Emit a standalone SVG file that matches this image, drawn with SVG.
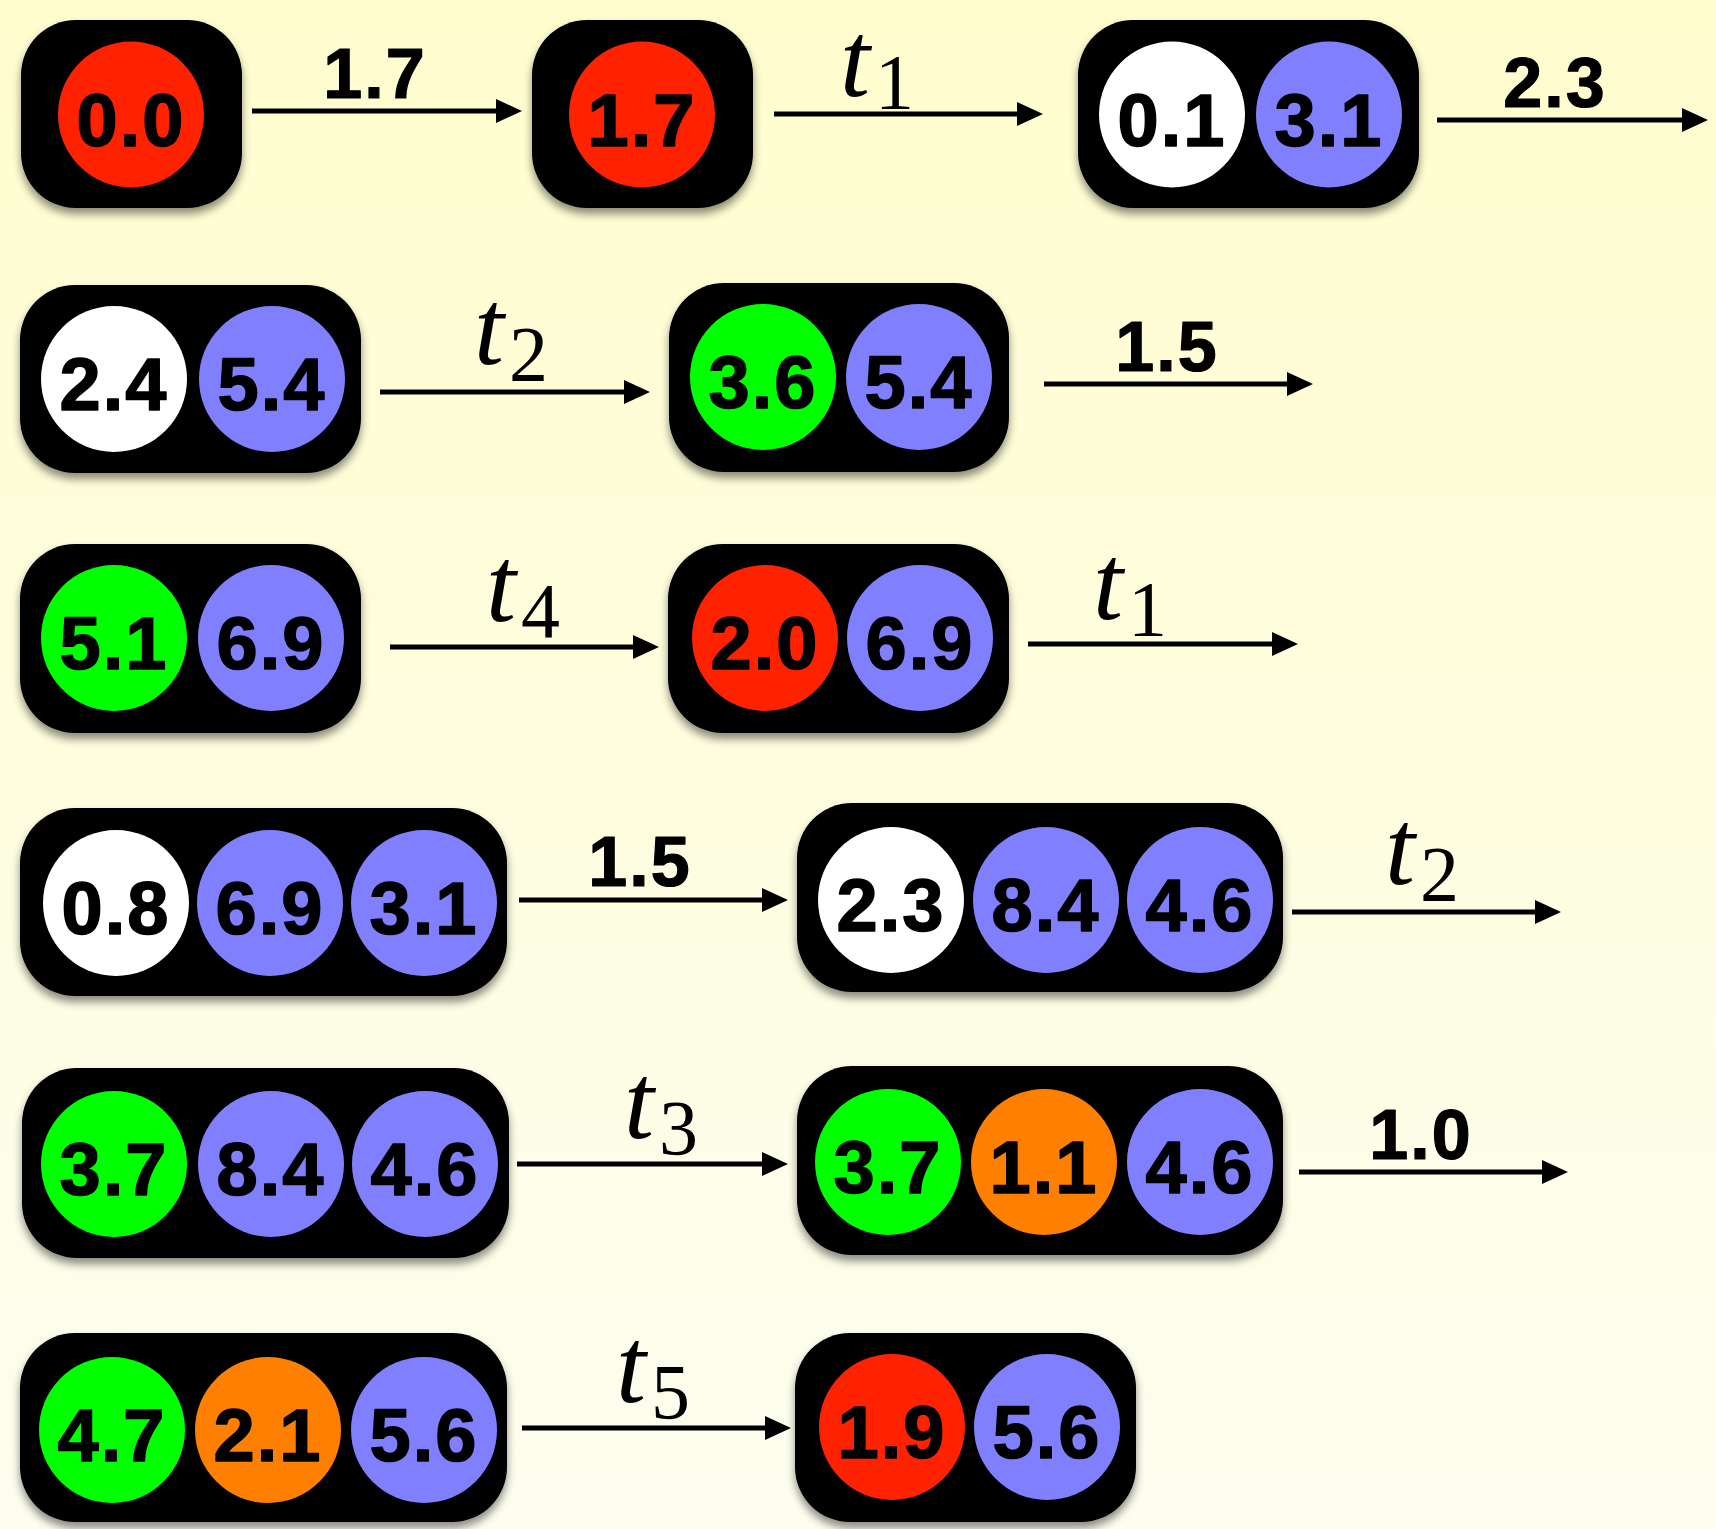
<svg xmlns="http://www.w3.org/2000/svg" width="1716" height="1529" viewBox="0 0 1716 1529">
<defs>
<linearGradient id="bg" x1="0" y1="0" x2="0" y2="1">
<stop offset="0" stop-color="#FFFDCE"/>
<stop offset="1" stop-color="#FDFDF0"/>
</linearGradient>
<filter id="sh" x="-10%" y="-10%" width="120%" height="130%">
<feDropShadow dx="0" dy="6" stdDeviation="4" flood-color="#000" flood-opacity="0.45"/>
</filter>
<marker id="ah" markerUnits="userSpaceOnUse" markerWidth="26" markerHeight="24" refX="6" refY="12" orient="auto" overflow="visible">
<path d="M0,0 L26,12 L0,24 z" fill="#000"/>
</marker>
<style>
.box{fill:#000;filter:url(#sh)}
.red{fill:#FF2200}.blue{fill:#8080FF}.green{fill:#00FF00}.white{fill:#FFFFFF}.orange{fill:#FF8000}
.num{font-family:"Liberation Sans",Arial,sans-serif;font-weight:bold;font-size:74px;text-anchor:middle;fill:#000;stroke:#000;stroke-width:1.5px;stroke-linejoin:round;letter-spacing:2px}
.lbl{font-family:"Liberation Sans",Arial,sans-serif;font-weight:bold;font-size:70px;text-anchor:middle;fill:#000;stroke:#000;stroke-width:1.2px;stroke-linejoin:round;letter-spacing:2px}
.tl{font-family:"Liberation Serif","Times New Roman",serif;font-size:108px;text-anchor:middle;fill:#000}
.it{font-style:italic}
.sub{font-size:78px}
.conn line{stroke:#000;stroke-width:5;marker-end:url(#ah)}
</style>
</defs>
<rect x="0" y="0" width="1716" height="1529" fill="url(#bg)"/>

<g id="node-A"><rect class="box" x="21" y="20" width="221" height="188" rx="55"/><circle class="red" cx="131" cy="114.5" r="73"/><text class="num" x="131" y="145.5">0.0</text></g>
<g id="node-B"><rect class="box" x="532" y="20" width="221" height="188" rx="55"/><circle class="red" cx="642" cy="114.5" r="73"/><text class="num" x="642" y="145.5">1.7</text></g>
<g id="node-C"><rect class="box" x="1078" y="20" width="341" height="188" rx="55"/><circle class="white" cx="1172" cy="114.5" r="73"/><text class="num" x="1172" y="145.5">0.1</text><circle class="blue" cx="1329" cy="114.5" r="73"/><text class="num" x="1329" y="145.5">3.1</text></g>

<g id="node-D"><rect class="box" x="20" y="285" width="341" height="188" rx="55"/><circle class="white" cx="114" cy="379" r="73"/><text class="num" x="114" y="410">2.4</text><circle class="blue" cx="272" cy="379" r="73"/><text class="num" x="272" y="410">5.4</text></g>
<g id="node-E"><rect class="box" x="669" y="283" width="340" height="189" rx="55"/><circle class="green" cx="763" cy="377" r="73"/><text class="num" x="763" y="408">3.6</text><circle class="blue" cx="919" cy="377" r="73"/><text class="num" x="919" y="408">5.4</text></g>

<g id="node-F"><rect class="box" x="20" y="544" width="341" height="189" rx="55"/><circle class="green" cx="114" cy="638" r="73"/><text class="num" x="114" y="669">5.1</text><circle class="blue" cx="271" cy="638" r="73"/><text class="num" x="271" y="669">6.9</text></g>
<g id="node-G"><rect class="box" x="668" y="544" width="341" height="189" rx="55"/><circle class="red" cx="765" cy="638" r="73"/><text class="num" x="765" y="669">2.0</text><circle class="blue" cx="920" cy="638" r="73"/><text class="num" x="920" y="669">6.9</text></g>

<g id="node-H"><rect class="box" x="20" y="808" width="487" height="188" rx="55"/><circle class="white" cx="116" cy="903" r="73"/><text class="num" x="116" y="934">0.8</text><circle class="blue" cx="270" cy="903" r="73"/><text class="num" x="270" y="934">6.9</text><circle class="blue" cx="424" cy="903" r="73"/><text class="num" x="424" y="934">3.1</text></g>
<g id="node-I"><rect class="box" x="797" y="803" width="486" height="189" rx="55"/><circle class="white" cx="891" cy="900" r="73"/><text class="num" x="891" y="931">2.3</text><circle class="blue" cx="1046" cy="900" r="73"/><text class="num" x="1046" y="931">8.4</text><circle class="blue" cx="1200" cy="900" r="73"/><text class="num" x="1200" y="931">4.6</text></g>

<g id="node-J"><rect class="box" x="22" y="1068" width="487" height="190" rx="55"/><circle class="green" cx="114" cy="1164" r="73"/><text class="num" x="114" y="1195">3.7</text><circle class="blue" cx="271" cy="1164" r="73"/><text class="num" x="271" y="1195">8.4</text><circle class="blue" cx="425" cy="1164" r="73"/><text class="num" x="425" y="1195">4.6</text></g>
<g id="node-K"><rect class="box" x="797" y="1066" width="486" height="189" rx="55"/><circle class="green" cx="888" cy="1162" r="73"/><text class="num" x="888" y="1193">3.7</text><circle class="orange" cx="1044" cy="1162" r="73"/><text class="num" x="1044" y="1193">1.1</text><circle class="blue" cx="1200" cy="1162" r="73"/><text class="num" x="1200" y="1193">4.6</text></g>

<g id="node-L"><rect class="box" x="20" y="1333" width="487" height="189" rx="55"/><circle class="green" cx="112" cy="1430" r="73"/><text class="num" x="112" y="1461">4.7</text><circle class="orange" cx="268" cy="1430" r="73"/><text class="num" x="268" y="1461">2.1</text><circle class="blue" cx="424" cy="1430" r="73"/><text class="num" x="424" y="1461">5.6</text></g>
<g id="node-M"><rect class="box" x="795" y="1333" width="341" height="189" rx="55"/><circle class="red" cx="892" cy="1427" r="73"/><text class="num" x="892" y="1458">1.9</text><circle class="blue" cx="1047" cy="1427" r="73"/><text class="num" x="1047" y="1458">5.6</text></g>

<g id="connectors" class="conn">
<line x1="252" y1="111" x2="502" y2="111"/>
<line x1="774" y1="114" x2="1023" y2="114"/>
<line x1="1437" y1="120" x2="1688" y2="120"/>
<line x1="380" y1="392" x2="630" y2="392"/>
<line x1="1044" y1="384" x2="1293" y2="384"/>
<line x1="390" y1="647" x2="639" y2="647"/>
<line x1="1028" y1="644" x2="1278" y2="644"/>
<line x1="519" y1="900" x2="768" y2="900"/>
<line x1="1292" y1="912" x2="1541" y2="912"/>
<line x1="517" y1="1164" x2="768" y2="1164"/>
<line x1="1299" y1="1172" x2="1548" y2="1172"/>
<line x1="522" y1="1428" x2="771" y2="1428"/>
</g>

<g id="labels">
<text class="lbl" x="375" y="98">1.7</text>
<text class="tl" x="877" y="96"><tspan class="it">t</tspan><tspan class="sub" dx="5" dy="12">1</tspan></text>
<text class="lbl" x="1555" y="107">2.3</text>
<text class="tl" x="511" y="364"><tspan class="it">t</tspan><tspan class="sub" dx="5" dy="16">2</tspan></text>
<text class="lbl" x="1167" y="371">1.5</text>
<text class="tl" x="523" y="621"><tspan class="it">t</tspan><tspan class="sub" dx="5" dy="16">4</tspan></text>
<text class="tl" x="1130" y="619"><tspan class="it">t</tspan><tspan class="sub" dx="5" dy="16">1</tspan></text>
<text class="lbl" x="640" y="886">1.5</text>
<text class="tl" x="1422" y="884"><tspan class="it">t</tspan><tspan class="sub" dx="5" dy="16">2</tspan></text>
<text class="tl" x="661" y="1138"><tspan class="it">t</tspan><tspan class="sub" dx="5" dy="16">3</tspan></text>
<text class="lbl" x="1421" y="1159">1.0</text>
<text class="tl" x="653" y="1402"><tspan class="it">t</tspan><tspan class="sub" dx="5" dy="16">5</tspan></text>
</g>
</svg>
